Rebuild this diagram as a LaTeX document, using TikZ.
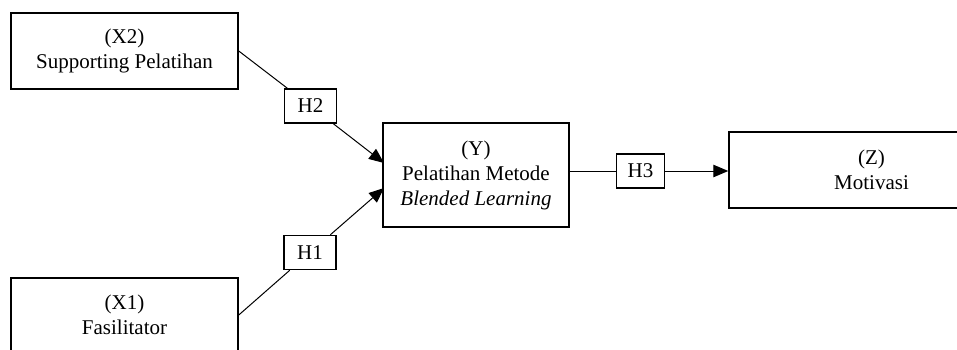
\documentclass[tikz,border=0pt]{standalone}
\usepackage{fontspec}
\setmainfont{Liberation Serif}
\usetikzlibrary{arrows.meta}
\begin{document}
\begin{tikzpicture}[x=1pt,y=-1pt,
  txt/.style={font=\fontsize{21}{25}\selectfont},
  box/.style={txt, draw, line width=1.5pt, align=center, inner sep=0pt},
  hbox/.style={txt, draw, line width=1.5pt, fill=white, inner sep=0pt, minimum width=52pt, minimum height=34pt},
  conn/.style={line width=1pt},
  arr/.style={conn, -{Triangle[length=15pt,width=12.5pt]}}]
\useasboundingbox (0,0) rectangle (957,349);
\fill[white] (0,0) rectangle (957,349);
\begin{scope}
\clip (0,0) rectangle (957,349);
\node[box, minimum width=227pt, minimum height=76pt] (X2) at (124.5,51) {(X2)\\Supporting Pelatihan};
\node[box, minimum width=227pt, minimum height=74pt] (X1) at (124.5,315) {(X1)\\Fasilitator};
\node[box, minimum width=186pt, minimum height=104pt] (Y) at (476,175) {(Y)\\Pelatihan Metode\\\textit{Blended Learning}};
\node[box, minimum width=285pt, minimum height=76pt] (Z) at (871.5,170) {(Z)\\Motivasi};
\node[hbox] (H2) at (310.5,106) {H2};
\node[hbox] (H1) at (310,252.5) {H1};
\node[hbox, minimum width=48pt] (H3) at (640.5,171) {H3};
\coordinate (yin2) at (384,163);
\coordinate (yin1) at (384,188);
\draw[conn] (X2.east) -- (H2);
\draw[arr] (H2) -- (yin2);
\draw[conn] (X1.east) -- (H1);
\draw[arr] (H1) -- (yin1);
\draw[conn] (Y.east |- H3.center) -- (H3.west);
\draw[arr] (H3.east) -- (Z.west |- H3.center);
\end{scope}
\end{tikzpicture}
\end{document}
